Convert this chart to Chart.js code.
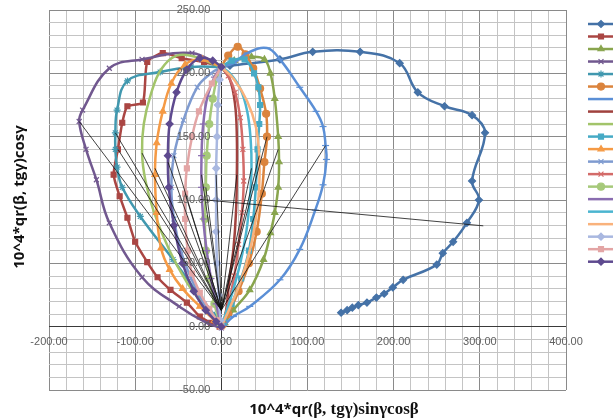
<!DOCTYPE html>
<html>
<head>
<meta charset="utf-8">
<script src="https://cdn.jsdelivr.net/npm/chart.js@4.4.0/dist/chart.umd.min.js"></script>
<style>
  html, body { margin: 0; padding: 0; background: #fff; }
  #wrap { width: 613px; height: 419px; }
</style>
</head>
<body>
<div id="wrap"><canvas id="qr-chart" width="613" height="419"></canvas></div>
<script>
  // tick labels shown on the crossing axes
  const xLabelValues = [-200, -100, 0, 100, 200, 300, 400];
  const xTickLabels = ['-200.00', '-100.00', '0.00', '100.00', '200.00', '300.00', '400.00'];
  const yLabelValues = [-50, 0, 50, 100, 150, 200, 250];
  const yTickLabels = ['-50.00', '0.00', '50.00', '100.00', '150.00', '200.00', '250.00'];

  // series points [x, y]
  const s1 = [[139,11],[146,13],[152,15],[159,17],[169,19],[180,23],[189,26],[199,31],[211,37],[250,49],[257,58],[269,67],[285,82],[299,100],[291,115],[306,153],[291,167],[259,174],[228,185],[207,208],[161,217],[106,217],[68,211],[10,206],[0,205]];
  const s2 = [[-2,0],[-12,3],[-25,8],[-40,19],[-59,29],[-74,39],[-86,51],[-100,67],[-109,86],[-118,103],[-125,120],[-120,140],[-115,161],[-109,174],[-91,177],[-86,209],[-68,216],[-46,212],[-20,209],[0,205]];
  const s3 = [[0,205],[15,210],[35,213],[50,211],[57,200],[62,180],[66,150],[67,130],[66,110],[62,90],[57,74],[49,53],[33,29],[14,13],[4,3]];
  const s4 = [[0,-1],[-17,3],[-49,16],[-92,39],[-130,82],[-145,116],[-157,140],[-165,162],[-161,171],[-130,204],[-92,211],[-34,216],[0,205]];
  const s5 = [[0,1],[-8,9],[-25,24],[-56,53],[-94,87],[-115,110],[-121,126],[-123,140],[-123,153],[-121,171],[-109,194],[-71,201],[-35,205],[0,205]];
  const s6 = [[0,205],[8,214],[19,221],[28,215],[37,204],[45,188],[52,168],[53,150],[50,130],[47,105],[41,75],[32,50],[20,28],[8,10],[2,2]];
  const s7 = [[0,205],[14,208],[30,216],[53,220],[68,211],[91,189],[110,170],[118,158],[121,143],[122,132],[118,112],[109,92],[91,61],[68,37],[33,16],[14,8],[3,1]];
  const s8 = [[0,205],[10,195],[16,175],[18,150],[18,120],[17,90],[14,61],[9,35],[6,15],[3,2]];
  const s9 = [[-1,0],[-8,6],[-22,18],[-40,35],[-60,60],[-78,90],[-88,115],[-92,137],[-90,160],[-82,183],[-70,203],[-52,214],[-30,213],[-12,208],[0,205]];
  const s10 = [[0,205],[12,210],[27,211],[38,200],[43,189],[45,175],[44,160],[42,140],[40,110],[37,85],[32,60],[23,38],[12,18],[3,4]];
  const s11 = [[0,0],[-8,5],[-25,16],[-45,30],[-60,45],[-70,62],[-75,90],[-77,120],[-75,145],[-68,170],[-58,192],[-42,207],[-22,211],[0,205]];
  const s12 = [[0,205],[-12,200],[-28,189],[-44,163],[-55,135],[-58,110],[-55,85],[-47,60],[-35,38],[-20,18],[-6,4],[0,0]];
  const s13 = [[0,205],[8,198],[16,185],[22,165],[25,140],[26,115],[24,90],[20,65],[15,40],[9,20],[3,5]];
  const s14 = [[0,205],[-5,196],[-10,180],[-14,160],[-17,135],[-18,110],[-19,85],[-18,60],[-14,38],[-8,18],[-2,3]];
  const s15 = [[0,205],[-8,197],[-16,182],[-21,160],[-23,135],[-23,110],[-21,85],[-17,60],[-12,38],[-6,18],[-1,3]];
  const s16 = [[0,205],[10,200],[22,188],[30,170],[34,148],[35,125],[33,100],[29,75],[22,50],[12,25],[3,6]];
  const s17 = [[0,205],[15,195],[30,178],[40,158],[44,135],[44,110],[40,85],[33,60],[22,35],[10,15],[2,3]];
  const s18 = [[0,205],[-2,195],[-4,175],[-5,150],[-6,125],[-6,100],[-6,75],[-5,50],[-3,25],[-1,5]];
  const s19 = [[0,205],[-11,192],[-26,170],[-34,150],[-40,125],[-42,105],[-42,85],[-39,60],[-34,42],[-25,27],[-14,14],[-5,5],[0,0]];
  const s20 = [[0,0],[-6,4],[-18,13],[-32,28],[-45,50],[-55,80],[-61,110],[-62,135],[-60,160],[-52,185],[-40,203],[-25,212],[-10,210],[0,205]];

  // thin black guide lines
  const rayStart = [0, 13];
  const rayEnds = [[-165,162],[-123,153],[-120,140],[-92,137],[-77,125],[-62,130],[-55,135],[-42,105],[-23,120],[-18,110],[-6,120],[18,120],[35,125],[44,135],[53,150],[66,140],[121,143]];
  const crossLine = [[-25,100.5],[304,79.6]];

  const seriesList = [s1,s2,s3,s4,s5,s6,s7,s8,s9,s10,s11,s12,s13,s14,s15,s16,s17,s18,s19,s20];
  const colors = ['#4572A7','#AA4643','#89A54E','#71588F','#4198AF','#DB843D','#5B8FD6','#A0413E','#A2C46A','#46AAC5',
                  '#F59A45','#7F9BD0','#D36B69','#A6C97A','#8A6DB0','#4BB5D0','#F9B27C','#A9B8E0','#E3A5A5','#5E4A8F'];
  const markers = ['rectRot','rect','triangle','crossRot','star','circle','line',false,false,'rect',
                   'triangle','crossRot','crossRot','circle','line',false,false,'rectRot','rect','rectRot'];

  const toXY = pts => pts.map(p => ({ x: p[0], y: p[1] }));

  const datasets = seriesList.map((pts, i) => ({
    data: toXY(pts),
    showLine: true,
    borderColor: colors[i],
    backgroundColor: colors[i],
    borderWidth: 2.5,
    tension: i === 1 ? 0.2 : 0.4,
    pointStyle: markers[i] || 'circle',
    pointRadius: markers[i] ? 3.5 : 0,
    pointBorderWidth: 1.2,
    order: 20 - i,
  }));

  rayEnds.forEach(end => {
    datasets.push({
      data: toXY([rayStart, end]),
      showLine: true,
      borderColor: '#111', borderWidth: 0.8, pointRadius: 0, order: -1,
    });
  });
  datasets.push({
    data: toXY(crossLine),
    showLine: true,
    borderColor: '#111', borderWidth: 0.8, pointRadius: 0, order: -1,
  });

  function gridColor(ctx, major) {
    const v = ctx.tick.value;
    if (v === 0) return '#3a3a3a';
    return v % major === 0 ? '#8a8a8a' : '#c4c4c4';
  }

  const decorations = {
    id: 'decorations',
    afterDraw(chart) {
      const ctx = chart.ctx, xs = chart.scales.x, ys = chart.scales.y;
      const x0 = xs.getPixelForValue(0), y0 = ys.getPixelForValue(0);
      ctx.save();

      // tick labels along the axes
      ctx.fillStyle = '#606060';
      ctx.font = '11px "Liberation Sans", Arial, sans-serif';
      ctx.textAlign = 'right';
      ctx.textBaseline = 'middle';
      yLabelValues.forEach((v, i) => ctx.fillText(yTickLabels[i], x0 - 11, ys.getPixelForValue(v)));
      ctx.textAlign = 'center';
      xLabelValues.forEach((v, i) => ctx.fillText(xTickLabels[i], xs.getPixelForValue(v), y0 + 15));

      // axis titles
      ctx.fillStyle = '#111';
      ctx.textBaseline = 'alphabetic';
      const partA = '10^4*qr(', partB = 'β, tgγ)sinγcosβ';
      const fontA = 'bold 15px "Open Sans", sans-serif';
      const fontB = 'bold 17px "Liberation Serif", serif';
      ctx.font = fontA;
      const wA = ctx.measureText(partA).width;
      ctx.font = fontB;
      const wB = ctx.measureText(partB).width;
      const tx = 334 - (wA + wB) / 2;
      ctx.textAlign = 'left';
      ctx.font = fontA;
      ctx.fillText(partA, tx, 414);
      ctx.font = fontB;
      ctx.fillText(partB, tx + wA, 414);

      ctx.save();
      ctx.translate(24, 197);
      ctx.rotate(-Math.PI / 2);
      ctx.textAlign = 'center';
      ctx.font = 'bold 15px "Open Sans", sans-serif';
      ctx.fillText('10^4*qr(β, tgγ)cosγ', 0, 0);
      ctx.restore();

      // legend without text, clipped at the right edge
      seriesList.forEach((pts, i) => {
        const ly = 24 + 12.51 * i;
        ctx.strokeStyle = colors[i];
        ctx.lineWidth = 2.5;
        ctx.beginPath();
        ctx.moveTo(588, ly);
        ctx.lineTo(614, ly);
        ctx.stroke();
        if (markers[i]) {
          ctx.fillStyle = colors[i];
          ctx.lineWidth = 1.2;
          Chart.helpers.drawPoint(ctx, { pointStyle: markers[i], radius: 3.5, rotation: 0, borderWidth: 1.2 }, 601, ly);
        }
      });
      ctx.restore();
    }
  };

  new Chart(document.getElementById('qr-chart'), {
    type: 'scatter',
    data: { datasets: datasets },
    options: {
      responsive: false,
      animation: false,
      events: [],
      layout: { padding: { left: 49, top: 10, right: 47, bottom: 29 } },
      scales: {
        x: {
          type: 'linear', min: -200, max: 400,
          ticks: { stepSize: 20, display: false },
          grid: { color: c => gridColor(c, 100), drawTicks: false, lineWidth: 1 },
          border: { display: false },
        },
        y: {
          type: 'linear', min: -50, max: 250,
          ticks: { stepSize: 10, display: false },
          grid: { color: c => gridColor(c, 50), drawTicks: false, lineWidth: 1 },
          border: { display: false },
        }
      },
      plugins: {
        legend: { display: false },
        tooltip: { enabled: false },
      }
    },
    plugins: [decorations]
  });
</script>
</body>
</html>
